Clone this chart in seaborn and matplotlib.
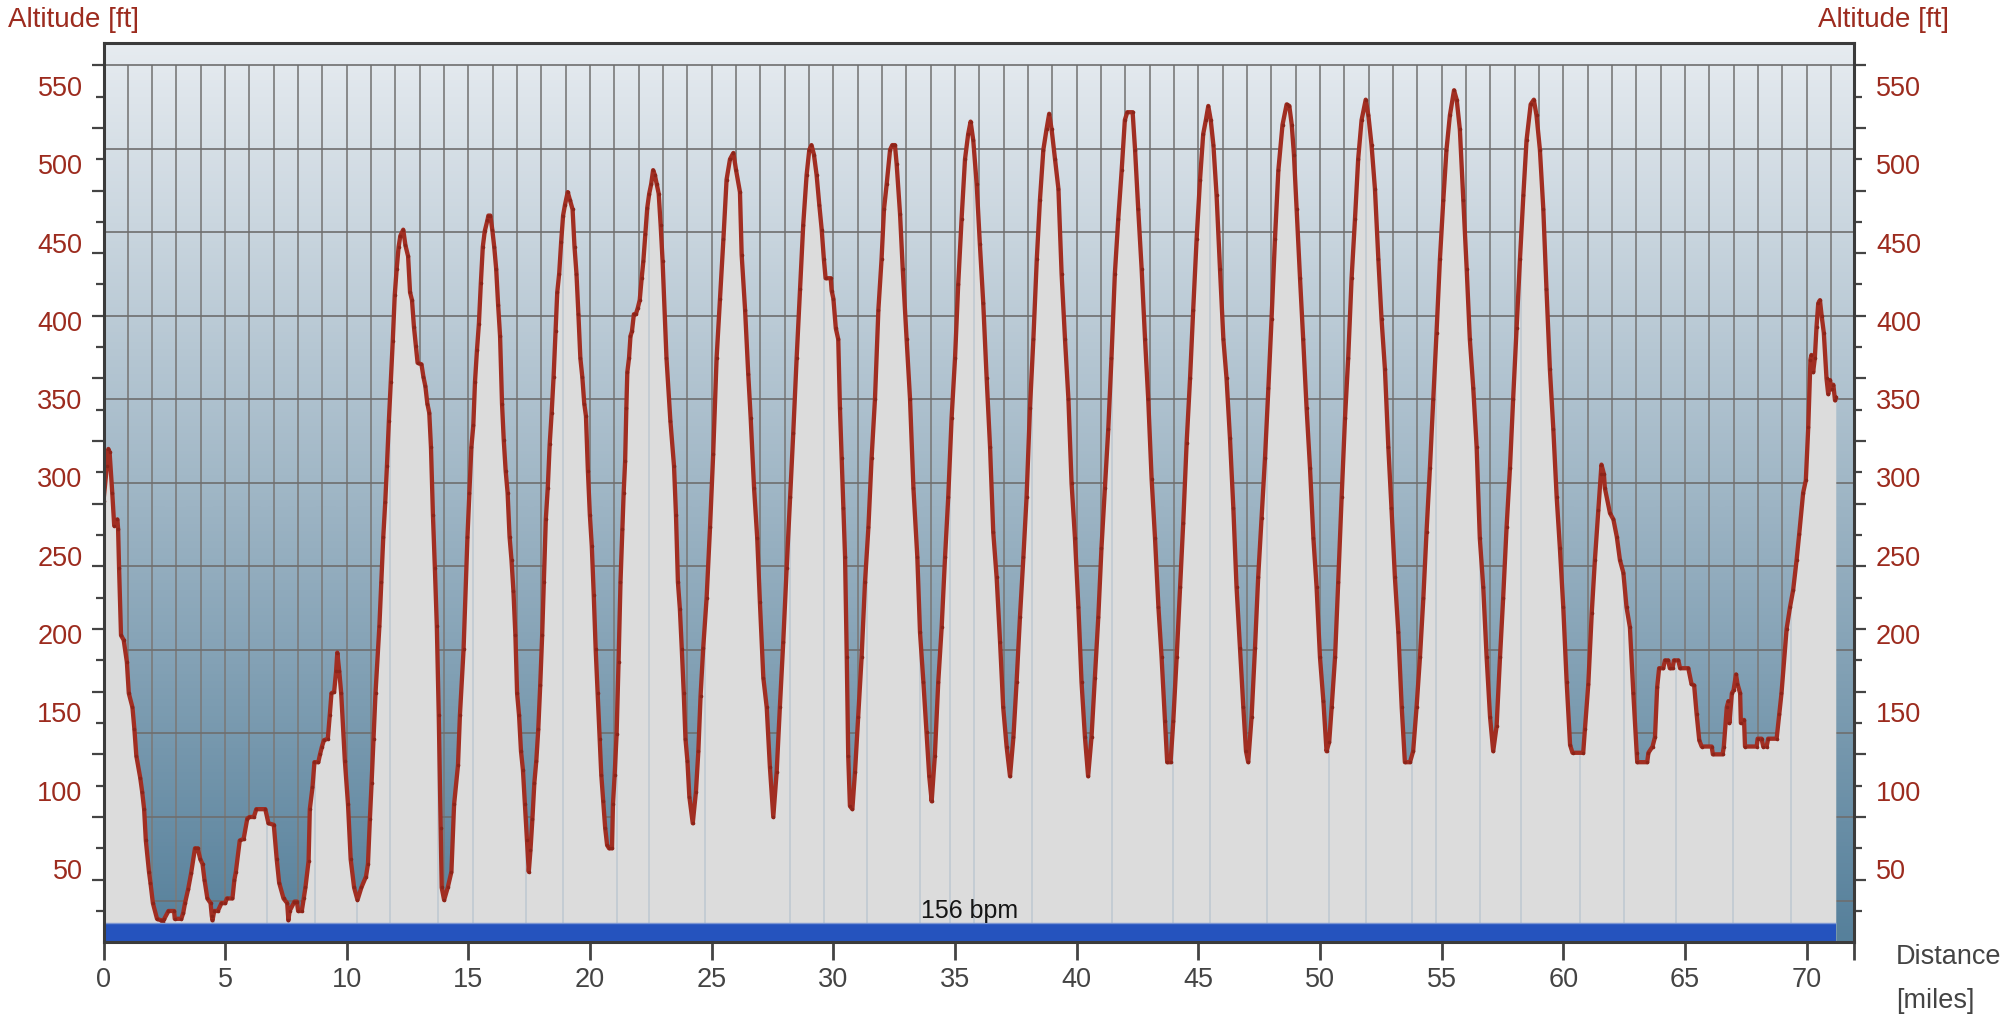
import numpy as np
import pandas as pd
import matplotlib
matplotlib.use("Agg")
import matplotlib.pyplot as plt
import matplotlib.transforms as mtransforms
from matplotlib.colors import LinearSegmentedColormap
import seaborn as sns

# ---------------- data (distance in miles, altitude in ft) ----------------
d_a = [0.0, 0.14, 0.2, 0.25, 0.36, 0.44, 0.57, 0.6, 0.64, 0.72, 0.83, 0.96, 1.04, 1.19, 1.27,
       1.35, 1.51, 1.59, 1.67, 1.74, 1.87, 1.93, 2.03, 2.2, 2.37, 2.43, 2.5, 2.67, 2.9, 2.93,
       3.2, 3.28, 3.35, 3.48, 3.6, 3.76, 3.87, 3.98, 4.07, 4.15, 4.27, 4.4, 4.45, 4.48, 4.55,
       4.7, 4.85, 5.0, 5.07, 5.3, 5.38, 5.44, 5.6, 5.76, 5.91, 6.0, 6.18, 6.28, 6.65, 6.78,
       7.0, 7.12, 7.22, 7.4, 7.55, 7.6, 7.65, 7.85, 7.95, 8.0, 8.15, 8.23, 8.3, 8.43]
a_a = [282, 304, 315, 313, 287, 266, 270, 264, 239, 196, 193, 179, 159, 150, 136,
       119, 105, 96, 85, 65, 45, 38, 25, 15, 14, 13, 15, 20, 20, 15,
       15, 19, 25, 34, 44, 60, 60, 53, 50, 40, 28, 25, 17, 14, 20,
       20, 25, 25, 28, 28, 40, 45, 65, 66, 79, 80, 80, 85, 85, 76,
       75, 53, 38, 28, 25, 14, 20, 26, 26, 20, 20, 28, 35, 52]

d_b = [8.48, 8.59, 8.67, 8.83, 8.9, 8.98, 9.06, 9.22, 9.3, 9.37, 9.48, 9.56, 9.61, 9.69, 9.77,
       9.92, 10.05, 10.16, 10.3, 10.44, 10.6, 10.79, 10.87, 10.95, 11.02, 11.1, 11.18, 11.34,
       11.42, 11.5, 11.58, 11.65, 11.73, 11.81, 11.89, 11.97, 12.05, 12.13, 12.2, 12.32, 12.41,
       12.52, 12.6, 12.68, 12.76, 12.84, 12.91, 13.07, 13.15, 13.23, 13.31, 13.39, 13.46, 13.54,
       13.62, 13.7, 13.78, 13.86, 13.9, 14.0, 14.15, 14.3]
a_b = [85, 99, 115, 115, 120, 125, 129, 130, 145, 159, 160, 173, 185, 173, 159,
       116, 88, 53, 35, 27, 35, 42, 50, 79, 102, 130, 159, 202,
       230, 259, 281, 304, 333, 358, 384, 413, 430, 444, 451, 455, 445,
       438, 415, 410, 393, 381, 370, 369, 361, 355, 344, 338, 316, 273,
       239, 202, 145, 73, 35, 27, 35, 45]

d_c = [14.41, 14.57, 14.65, 14.8, 14.96, 15.04, 15.12, 15.2, 15.27, 15.35, 15.43, 15.51, 15.59,
       15.67, 15.78, 15.82, 15.9, 15.98, 16.06, 16.14, 16.22, 16.3, 16.38, 16.45, 16.53, 16.61,
       16.69, 16.77, 16.85, 16.93, 17.0, 17.08, 17.16, 17.24, 17.32, 17.4, 17.48, 17.55, 17.63,
       17.71, 17.79, 17.87, 17.95, 18.03, 18.1, 18.18, 18.26, 18.34, 18.42, 18.5, 18.58, 18.65,
       18.73, 18.81, 18.89, 18.97, 19.08, 19.17, 19.28, 19.36, 19.44, 19.52, 19.6, 19.68, 19.76,
       19.83, 19.91, 19.99, 20.07, 20.15, 20.23, 20.31, 20.39, 20.46, 20.54, 20.62, 20.7, 20.78,
       20.9]
a_c = [88, 113, 145, 187, 259, 287, 316, 330, 358, 378, 395, 421, 444,
       454, 461, 464, 464, 455, 444, 430, 407, 387, 344, 321, 301, 287,
       259, 244, 224, 196, 159, 145, 122, 110, 88, 65, 45, 59, 79,
       102, 116, 136, 164, 196, 230, 270, 290, 318, 338, 361, 390, 415,
       427, 447, 464, 471, 479, 474, 468, 444, 427, 401, 373, 361, 344,
       336, 301, 273, 253, 222, 187, 159, 130, 107, 90, 73, 62, 60,
       60]

d_d = [20.94, 21.01, 21.09, 21.17, 21.25, 21.33, 21.38, 21.44, 21.49, 21.53, 21.6, 21.66, 21.72,
       21.8, 21.88, 21.96, 22.04, 22.12, 22.19, 22.27, 22.35, 22.43, 22.51, 22.59, 22.66, 22.74,
       22.82, 22.9, 22.98, 23.14, 23.3, 23.45, 23.53, 23.61, 23.69, 23.77, 23.85, 23.92, 24.0,
       24.08, 24.22]
a_d = [88, 107, 133, 179, 230, 264, 287, 307, 341, 364, 373, 387, 390,
       401, 401, 405, 410, 424, 435, 452, 469, 478, 484, 493, 490, 484,
       478, 458, 435, 373, 333, 304, 273, 230, 213, 187, 159, 130, 116,
       93, 76]

d_e = [24.35, 24.45, 24.54, 24.65, 24.79, 24.93, 25.06, 25.2, 25.34, 25.48, 25.61, 25.75, 25.89,
       26.0, 26.16, 26.23, 26.37, 26.5, 26.6, 26.74, 26.87, 26.98, 27.12, 27.26, 27.39, 27.53,
       27.67, 27.8, 27.94, 28.08, 28.22, 28.35, 28.49, 28.63, 28.76, 28.9, 29.01, 29.1, 29.2,
       29.31, 29.42, 29.52, 29.61, 29.68, 29.89, 29.93, 30.0, 30.1, 30.2, 30.27, 30.34, 30.41,
       30.48, 30.55, 30.61, 30.68, 30.78]
a_e = [96, 122, 157, 188, 220, 265, 312, 373, 411, 449, 487, 500, 504,
       493, 479, 439, 404, 363, 335, 290, 258, 217, 169, 150, 112, 80,
       109, 150, 192, 239, 284, 325, 373, 417, 458, 490, 506, 509, 503,
       490, 471, 455, 436, 424, 424, 416, 411, 392, 385, 341, 309, 277,
       246, 182, 119, 87, 85]

d_f = [30.89, 31.02, 31.16, 31.3, 31.44, 31.57, 31.71, 31.85, 31.98, 32.08, 32.19, 32.33, 32.42,
       32.53, 32.6, 32.74, 32.85, 33.01, 33.15, 33.29, 33.45, 33.56, 33.7, 33.83, 33.94, 34.04,
       34.17, 34.31, 34.45, 34.59, 34.72, 34.86, 35.0, 35.13, 35.27, 35.41, 35.54, 35.64, 35.75,
       35.89, 36.02, 36.16, 36.3, 36.44, 36.57, 36.71, 36.85, 36.98, 37.12, 37.26]
a_f = [109, 144, 182, 230, 265, 309, 347, 404, 436, 468, 484, 506, 509,
       509, 497, 465, 430, 385, 347, 290, 246, 198, 166, 134, 106, 90,
       119, 166, 201, 246, 284, 335, 373, 420, 462, 500, 516, 524, 512,
       484, 446, 408, 360, 316, 262, 233, 192, 150, 125, 106]

d_g = [37.4, 37.53, 37.67, 37.81, 37.94, 38.08, 38.22, 38.36, 38.49, 38.63, 38.76, 38.87, 38.97,
       39.11, 39.25, 39.38, 39.52, 39.66, 39.79, 39.93, 40.07, 40.2, 40.34, 40.47, 40.61, 40.75,
       40.89, 41.02, 41.16, 41.3, 41.43, 41.57, 41.71, 41.85, 41.98, 42.08, 42.3, 42.4, 42.53,
       42.67, 42.81, 42.94, 43.08, 43.22, 43.36, 43.49, 43.63, 43.72, 43.86]
a_g = [131, 166, 208, 246, 284, 341, 385, 436, 474, 506, 519, 529, 519,
       500, 481, 427, 385, 347, 293, 258, 214, 166, 131, 106, 131, 169,
       208, 252, 290, 328, 373, 427, 462, 493, 525, 530, 530, 506, 468,
       430, 385, 347, 296, 258, 214, 182, 141, 115, 115]

d_h = [43.97, 44.11, 44.25, 44.38, 44.52, 44.66, 44.79, 44.93, 45.07, 45.2, 45.31, 45.41, 45.51,
       45.62, 45.75, 45.89, 46.03, 46.16, 46.3, 46.44, 46.57, 46.71, 46.85, 46.96, 47.05, 47.19,
       47.33, 47.46, 47.6, 47.74, 47.88, 48.01, 48.15, 48.29, 48.46, 48.63, 48.74, 48.84, 48.93,
       49.04, 49.18, 49.31, 49.45, 49.59, 49.73, 49.86, 50.0, 50.14, 50.27]
a_h = [141, 182, 227, 268, 319, 360, 404, 449, 487, 516, 525, 534, 525,
       509, 477, 430, 385, 360, 322, 277, 227, 188, 150, 122, 115, 144,
       188, 233, 271, 309, 354, 398, 449, 493, 522, 535, 534, 522, 503,
       468, 424, 385, 341, 303, 258, 227, 182, 154, 122]

d_i = [50.38, 50.48, 50.62, 50.75, 50.89, 51.03, 51.16, 51.3, 51.44, 51.57, 51.71, 51.88, 51.99,
       52.12, 52.26, 52.4, 52.53, 52.67, 52.81, 52.94, 53.08, 53.22, 53.36, 53.49, 53.7, 53.83,
       53.97, 54.11, 54.25, 54.38, 54.52, 54.66, 54.79, 54.93, 55.07, 55.2, 55.34, 55.51, 55.62,
       55.75, 55.89, 56.03, 56.16, 56.3, 56.44, 56.57, 56.71, 56.85, 56.99, 57.12]
a_i = [128, 150, 182, 230, 284, 335, 373, 424, 462, 500, 525, 538, 528,
       509, 481, 436, 398, 366, 316, 277, 233, 198, 150, 115, 115, 122,
       150, 182, 220, 262, 303, 347, 389, 436, 474, 506, 528, 544, 538,
       519, 474, 430, 385, 354, 316, 258, 227, 182, 144, 122]

d_j = [57.26, 57.4, 57.53, 57.67, 57.81, 57.94, 58.08, 58.22, 58.36, 58.49, 58.66, 58.79, 58.9,
       59.04, 59.18, 59.31, 59.45, 59.59, 59.73, 59.86, 60.0, 60.14]
a_j = [138, 182, 220, 265, 303, 347, 392, 436, 477, 512, 535, 538, 528,
       506, 468, 417, 366, 328, 284, 252, 214, 166]

d_k = [60.28, 60.38, 60.82, 60.89, 61.03, 61.17, 61.3, 61.44, 61.54, 61.57, 61.67, 61.71, 61.92,
       62.06, 62.2, 62.33, 62.47, 62.6, 62.74, 62.88, 63.02, 63.04, 63.45, 63.5, 63.67, 63.77,
       63.86, 63.94, 64.11, 64.18, 64.31, 64.38, 64.49, 64.55, 64.73, 64.8, 65.14, 65.27, 65.38,
       65.48, 65.59, 65.69, 66.1, 66.15, 66.55, 66.6, 66.72, 66.79, 66.83, 66.93, 67.0, 67.1,
       67.16, 67.27, 67.3, 67.43, 67.47, 67.95, 67.99, 68.15, 68.22, 68.36, 68.42, 68.77, 68.88,
       68.97, 69.18, 69.32, 69.45, 69.59, 69.7, 69.86, 69.97, 70.07, 70.16, 70.2, 70.27, 70.34,
       70.41, 70.48, 70.55, 70.62, 70.71, 70.82, 70.89, 70.96, 71.03, 71.1, 71.17, 71.2]
a_k = [126, 121, 121, 136, 165, 210, 244, 276, 299, 305, 299, 290, 274,
       270, 259, 244, 236, 214, 201, 159, 121, 115, 115, 121, 125, 131,
       163, 175, 175, 180, 180, 175, 175, 180, 180, 175, 175, 165, 164,
       146, 129, 125, 125, 120, 120, 125, 150, 154, 140, 159, 161, 171,
       165, 159, 140, 142, 125, 125, 130, 130, 125, 125, 130, 130, 146,
       159, 200, 214, 225, 244, 261, 287, 295, 329, 372, 375, 364, 373,
       393, 408, 410, 400, 389, 360, 350, 359, 353, 356, 346, 348]

# faint lap / split marker lines visible on the profile fill (miles)
lap_miles = [4.53, 6.74, 8.71, 10.44, 11.79, 13.73, 15.2, 17.35, 18.87, 21.12, 22.41, 24.73,
             28.22, 29.6, 31.4, 33.54, 34.78, 35.76, 38.18, 41.47, 43.94, 45.47, 47.84, 50.38,
             51.9, 53.79, 54.78, 56.59, 58.28, 60.67, 62.51, 64.65, 66.99, 69.36]

x_ticks = [0, 5, 10, 15, 20, 25, 30, 35, 40, 45, 50, 55, 60, 65, 70]
y_labels = [50, 100, 150, 200, 250, 300, 350, 400, 450, 500, 550]
hr_label = "156 bpm"

dist = d_a + d_b + d_c + d_d + d_e + d_f + d_g + d_h + d_i + d_j + d_k
alt = a_a + a_b + a_c + a_d + a_e + a_f + a_g + a_h + a_i + a_j + a_k
assert len(dist) == len(alt)
df = pd.DataFrame({"distance": dist, "altitude": alt})

# ---------------- style ----------------
sns.set_style("white")
plt.rcParams["font.family"] = ["Liberation Sans", "DejaVu Sans"]

RED_TXT = "#9c2b1e"
GREY_TXT = "#444444"
XMAX, YMAX = 71.95, 574.0

fig = plt.figure(figsize=(20.07, 10.17), dpi=100)
ax = fig.add_axes([103.5 / 2007, 74.7 / 1017, (1854 - 103.5) / 2007, (942.3 - 43.3) / 1017])
ax.set_xlim(0, XMAX)
ax.set_ylim(0, YMAX)
ax.grid(False)

# gradient background
cmap = LinearSegmentedColormap.from_list(
    "bg", [(0.0, "#56809b"), (0.52, "#a2b8c7"), (1.0, "#e6ebf0")])
grad = np.linspace(0, 1, 256).reshape(-1, 1)
ax.imshow(grad, extent=[0, XMAX, 0, YMAX], origin="lower", aspect="auto",
          cmap=cmap, zorder=0, interpolation="bicubic")

# background grid
ax.vlines(np.arange(1, 72), 0, 560, color="#7a7a7a", lw=1.2, zorder=1)
ax.hlines(np.arange(80 / 3, 561, 160 / 3), 0, XMAX, color="#6e6e6e", lw=1.2, zorder=1)

# profile fill
fill = ax.fill_between(df["distance"], df["altitude"], 0, color="#dcdcdc", lw=0, zorder=2)
laps = ax.vlines(lap_miles, 0, YMAX, color="#c2cbd3", lw=1.3, zorder=2.5)
laps.set_clip_path(fill.get_paths()[0], ax.transData)

# profile line
sns.lineplot(data=df, x="distance", y="altitude", ax=ax, color="#a12e22", linewidth=3.1,
             estimator=None, sort=False, zorder=3, legend=False,
             marker="o", markersize=2.6, markeredgewidth=0, markerfacecolor="#8c2419")

# heart-rate band
ax.fill_between([0, dist[-1]], 0, 12.3, color="#2553be", lw=0, zorder=4)
ax.hlines(12.3, 0, dist[-1], color="#7d97d3", lw=1, zorder=4.1)
ax.text((dist[0] + dist[-1]) / 2, 15.3, hr_label, ha="center", va="baseline",
        fontsize=18, color="#151515", zorder=5)

# spines
for s in ax.spines.values():
    s.set_visible(True)
    s.set_color("#3b3b3b")
    s.set_linewidth(2.2)
    s.set_zorder(6)

# x ticks
ax.set_xticks(x_ticks + [XMAX])
ax.set_xticklabels([str(v) for v in x_ticks] + [""])
ax.tick_params(axis="x", which="major", bottom=True, direction="out", length=13, width=2,
               color="#444444", pad=5, labelsize=19.5, labelcolor=GREY_TXT)
ax.set_xlabel("")
ax.set_ylabel("")

# y ticks (both sides), labels drawn separately
ax.set_yticks(np.arange(40, 561, 40))
ax.set_yticks(np.arange(20, 561, 40), minor=True)
ax.tick_params(axis="y", which="both", left=True, right=True, labelleft=False,
               labelright=False, direction="out", color="#444444")
ax.tick_params(axis="y", which="major", length=8.6, width=1.6)
ax.tick_params(axis="y", which="minor", length=5.8, width=1.6)

blend = mtransforms.blended_transform_factory(ax.transAxes, ax.transData)
tl = mtransforms.offset_copy(blend, fig=fig, x=-21, y=-15, units="dots")
tr = mtransforms.offset_copy(blend, fig=fig, x=22, y=-15, units="dots")
for v in y_labels:
    ax.text(0, v, str(v), transform=tl, ha="right", va="baseline", fontsize=19.5, color=RED_TXT)
    ax.text(1, v, str(v), transform=tr, ha="left", va="baseline", fontsize=19.5, color=RED_TXT)

# axis titles
fig.text(8 / 2007, 1 - 20 / 1017, "Altitude [ft]", ha="left", va="center",
         fontsize=20, color=RED_TXT)
fig.text(1949 / 2007, 1 - 20 / 1017, "Altitude [ft]", ha="right", va="center",
         fontsize=20, color=RED_TXT)
fig.text(1896 / 2007, 1 - 957 / 1017, "Distance", ha="left", va="center",
         fontsize=19.5, color=GREY_TXT)
fig.text(1896 / 2007, 1 - 1001 / 1017, "[miles]", ha="left", va="center",
         fontsize=19.5, color=GREY_TXT)

fig.savefig("out.png", dpi=100)
